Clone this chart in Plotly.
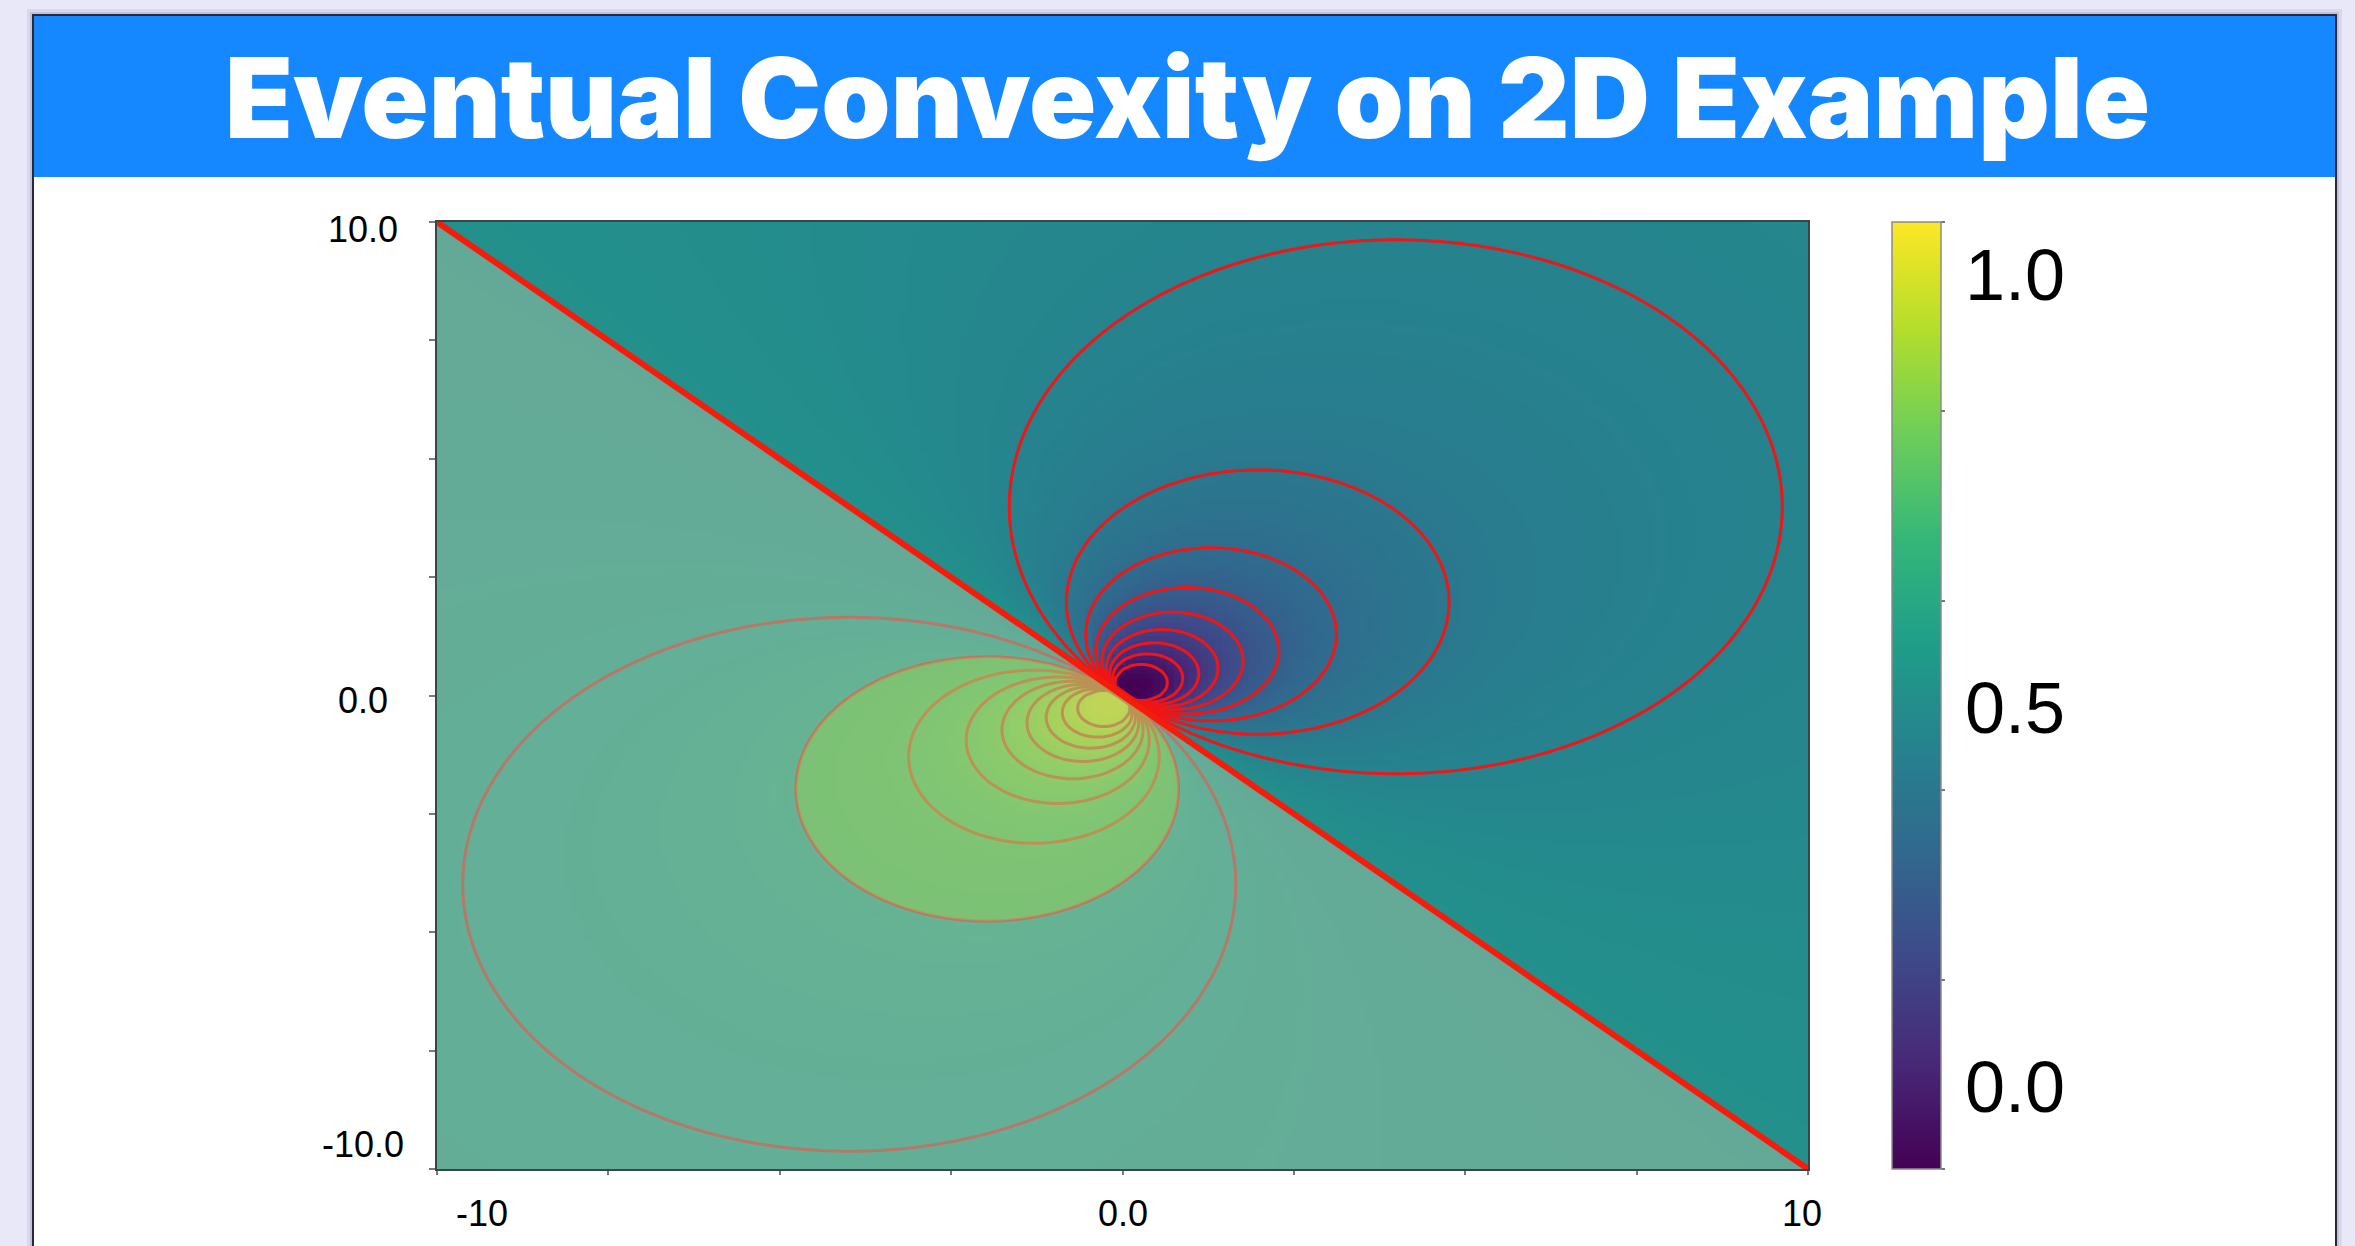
import numpy as np
import plotly.graph_objects as go

# ---- figure geometry (pixels) ----
W, H = 2355, 1246
PLOT_LEFT, PLOT_RIGHT = 437, 1808
PLOT_TOP, PLOT_BOTTOM = 222, 1169
CBAR_LEFT, CBAR_WIDTH = 1892, 49

# ---- the 2D example: f(x, y) = sigmoid(-BETA * (d . p) / |p|^2) ----
AXIS_RANGE = [-10.0, 10.0]
GRID_STEP = 0.1
BETA = 1.6
DIPOLE_DIR = [1.0, 1.0]

# contour levels (start, end, step) on either side of f = 0.5
LOWER_LEVELS = [0.05, 0.45, 0.05]
UPPER_LEVELS = [0.55, 0.95, 0.05]
HIGHLIGHT_LEVEL = 0.6          # superlevel set drawn as a shaded disk

COLOR_RANGE = [0.0, 1.0]
COLORBAR_TICKS = [0.0, 0.2, 0.4, 0.6, 0.8, 1.0]
COLORBAR_LABEL_VALUES = [1.0, 0.5, 0.0]
COLORBAR_LABEL_TEXT = ["1.0", "0.5", "0.0"]
COLORBAR_LABEL_PX = [275, 708, 1087]

X_TICKS = [-10, -7.5, -5, -2.5, 0, 2.5, 5, 7.5, 10]
Y_TICKS = [-10, -7.5, -5, -2.5, 0, 2.5, 5, 7.5, 10]
X_LABEL_VALUES = [-10, 0, 10]
X_LABEL_TEXT = ["-10", "0.0", "10"]
X_LABEL_SHIFT = [45, 0, -6]
Y_LABEL_VALUES = [10, 0, -10]
Y_LABEL_TEXT = ["10.0", "0.0", "-10.0"]
Y_LABEL_SHIFT = [-7, -5, 25]

TITLE = "Eventual Convexity on 2D Example"

# ---- sample the surface ----
n = int(round((AXIS_RANGE[1] - AXIS_RANGE[0]) / GRID_STEP)) + 1
xs = np.round(np.linspace(AXIS_RANGE[0], AXIS_RANGE[1], n), 6)
ys = xs.copy()
X, Y = np.meshgrid(xs, ys)
r2 = X**2 + Y**2
with np.errstate(divide="ignore", invalid="ignore"):
    t = (DIPOLE_DIR[0] * X + DIPOLE_DIR[1] * Y) / r2
t[r2 == 0] = 0.0
Z = 0.5 * (1.0 - np.tanh(0.5 * BETA * t))   # numerically safe sigmoid(-BETA * t)

fig = go.Figure()

fig.add_trace(go.Heatmap(
    x=xs, y=ys, z=Z, zmin=COLOR_RANGE[0], zmax=COLOR_RANGE[1],
    colorscale="Viridis", zsmooth=False, hoverinfo="skip",
    colorbar=dict(
        x=CBAR_LEFT / W, xanchor="left", xpad=0, ypad=0,
        y=1 - (PLOT_TOP + PLOT_BOTTOM) / 2 / H, yanchor="middle",
        len=(PLOT_BOTTOM - PLOT_TOP) / H, lenmode="fraction",
        thickness=CBAR_WIDTH, thicknessmode="pixels",
        outlinecolor="rgb(140,140,140)", outlinewidth=1.5,
        tickmode="array", tickvals=COLORBAR_TICKS, ticks="outside",
        ticklen=4, tickwidth=1.5, tickcolor="rgb(120,120,120)",
        showticklabels=False,
    ),
))

for lv in (LOWER_LEVELS, UPPER_LEVELS):
    fig.add_trace(go.Contour(
        x=xs, y=ys, z=Z, showscale=False, hoverinfo="skip",
        contours=dict(start=lv[0], end=lv[1], size=lv[2], coloring="none"),
        line=dict(color="rgb(238,22,22)", width=3),
    ))

# ---- overlays: half-plane below the tangent line and the highlighted superlevel disk ----
x0, x1 = AXIS_RANGE
# level set f = L  <=>  d . p = c |p|^2 with c = -logit(L) / BETA : circle through the origin
c = -np.log(HIGHLIGHT_LEVEL / (1 - HIGHLIGHT_LEVEL)) / BETA
cx, cy = DIPOLE_DIR[0] / (2 * c), DIPOLE_DIR[1] / (2 * c)
rad = np.hypot(*DIPOLE_DIR) / (2 * abs(c))

shapes = [
    # page background card + shadow
    dict(type="rect", xref="paper", yref="paper", x0=27 / W, x1=2342 / W, y0=-0.05, y1=1 - 9 / H,
         fillcolor="rgba(80,80,120,0.10)", line=dict(width=0), layer="below"),
    dict(type="rect", xref="paper", yref="paper", x0=30 / W, x1=2339 / W, y0=-0.05, y1=1 - 12 / H,
         fillcolor="rgba(60,60,100,0.14)", line=dict(width=0), layer="below"),
    dict(type="rect", xref="paper", yref="paper", x0=33 / W, x1=2336 / W, y0=-0.05, y1=1 - 15 / H,
         fillcolor="white", line=dict(color="rgb(40,40,60)", width=2), layer="below"),
    dict(type="rect", xref="paper", yref="paper", x0=34 / W, x1=2335 / W, y0=1 - 177 / H, y1=1 - 16 / H,
         fillcolor="rgb(22,136,255)", line=dict(width=0), layer="below"),
    # overlays on the plot
    dict(type="path", xref="x", yref="y",
         path=f"M {x0} {x1} L {x1} {x0} L {x0} {x0} Z",
         fillcolor="rgba(145,187,160,0.6)", line=dict(width=0), layer="above"),
    dict(type="circle", xref="x", yref="y",
         x0=cx - rad, x1=cx + rad, y0=cy - rad, y1=cy + rad,
         fillcolor="rgba(210,248,0,0.2)", line=dict(width=0), layer="above"),
    dict(type="line", xref="x", yref="y", x0=x0, y0=x1, x1=x1, y1=x0,
         line=dict(color="rgb(245,28,12)", width=6), layer="above"),
]

LABEL_FONT = dict(family="Liberation Sans, Arial, sans-serif", size=36, color="black")
annotations = [
    dict(text=TITLE, xref="paper", yref="paper", x=1187 / W, y=1 - 97 / H,
         xanchor="center", yanchor="middle", showarrow=False,
         font=dict(family="Inter, Lato, sans-serif", size=111, color="white", weight=900)),
]
for v, t_, s in zip(X_LABEL_VALUES, X_LABEL_TEXT, X_LABEL_SHIFT):
    annotations.append(dict(text=t_, xref="x", yref="paper", x=v, xshift=s, y=1 - 1213 / H,
                            xanchor="center", yanchor="middle", showarrow=False, font=LABEL_FONT))
for v, t_, s in zip(Y_LABEL_VALUES, Y_LABEL_TEXT, Y_LABEL_SHIFT):
    annotations.append(dict(text=t_, xref="paper", yref="y", x=363 / W, y=v, yshift=s,
                            xanchor="center", yanchor="middle", showarrow=False, font=LABEL_FONT))
for v, t_, p in zip(COLORBAR_LABEL_VALUES, COLORBAR_LABEL_TEXT, COLORBAR_LABEL_PX):
    annotations.append(dict(text=t_, xref="paper", yref="paper", x=1963 / W, y=1 - p / H,
                            xanchor="left", yanchor="middle", showarrow=False,
                            font=dict(family="Liberation Sans, Arial, sans-serif", size=72, color="black")))

axis_common = dict(
    range=AXIS_RANGE, showgrid=False, zeroline=False, showline=True, mirror=True,
    linecolor="rgb(55,70,70)", linewidth=2, ticks="outside", tickcolor="rgb(120,120,120)",
    tickwidth=1.5, showticklabels=False, tickmode="array",
)

fig.update_layout(
    width=W, height=H, margin=dict(l=0, r=0, t=0, b=0),
    paper_bgcolor="rgb(232,232,249)", plot_bgcolor="white",
    xaxis=dict(axis_common, domain=[PLOT_LEFT / W, PLOT_RIGHT / W], tickvals=X_TICKS, ticklen=4),
    yaxis=dict(axis_common, domain=[1 - PLOT_BOTTOM / H, 1 - PLOT_TOP / H], tickvals=Y_TICKS, ticklen=6),
    shapes=shapes, annotations=annotations, showlegend=False,
)

fig.write_html("out.html")
